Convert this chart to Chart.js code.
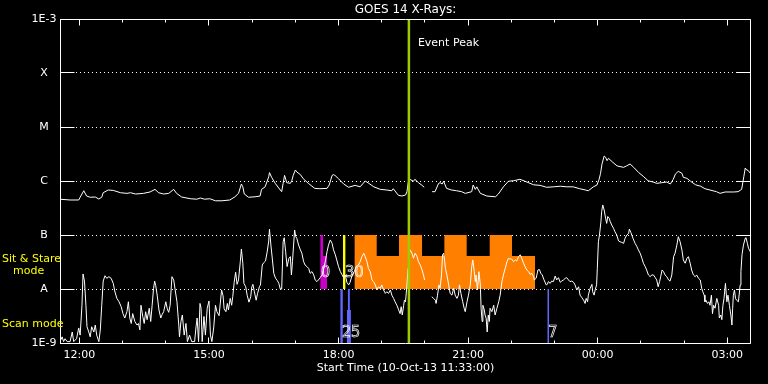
<!DOCTYPE html>
<html>
<head>
<meta charset="utf-8">
<style>
html,body{margin:0;padding:0;background:#000;}
#wrap{width:768px;height:384px;}
</style>
<script src="https://cdn.jsdelivr.net/npm/chart.js@4.4.1/dist/chart.umd.min.js"></script>
</head>
<body>
<div id="wrap"><canvas id="c" width="768" height="384"></canvas></div>
<script>
// ---------- DATA (time = minutes after start 10-Oct-13 11:33:00, flux in W/m^2) ----------
const longTimes = [
  0,14,26,28,33,37,42,49,54,58,
  60,67,74,84,93,98,105,116,125,132,
  137,144,151,158,162,169,181,190,195,201,
  208,216,225,236,243,248,252,254,256,262,
  271,278,280,285,290,291,294,299,306,308,
  310,312,315,320,322,324,327,329,334,338,
  345,354,361,371,374,378,380,382,387,394,
  401,410,417,424,429,436,445,454,461,463,
  470,475,480,482,484,486,491,493,498,503,
  506,511,
  517,521,526,528,531,533,537,544,
  551,558,563,572,574,577,579,584,593,605,
  609,616,623,630,639,646,658,667,676,686,
  695,704,713,722,730,734,741,746,749,751,
  753,756,758,760,762,767,774,783,787,792,
  797,804,811,817,824,829,836,843,848,852,
  855,859,864,866,871,876,883,890,896,903,
  912,917,924,936,942,947,950,952,954,956,
  959
];
const longFlux = [
  4.6e-7,4.45e-7,4.45e-7,5.0e-7,6.6e-7,5.27e-7,5.0e-7,5.05e-7,4.64e-7,5.0e-7,
  6.07e-7,6.81e-7,6.7e-7,6.07e-7,5.9e-7,6.07e-7,5.74e-7,5.9e-7,6.26e-7,7.0e-7,
  6.07e-7,5.74e-7,5.9e-7,7.0e-7,5.9e-7,5.05e-7,4.7e-7,4.6e-7,4.84e-7,4.6e-7,
  4.7e-7,4.3e-7,4.3e-7,4.45e-7,5.1e-7,5.9e-7,8.8e-7,7.8e-7,5.74e-7,5.0e-7,
  5.1e-7,5.27e-7,7.0e-7,7.8e-7,1.2e-6,1.43e-6,1.17e-6,9.05e-7,6.81e-7,6.34e-7,
  9.05e-7,1.27e-6,9.3e-7,9.05e-7,1.01e-6,1.27e-6,1.6e-6,1.47e-6,1.31e-6,1.10e-6,
  9.05e-7,7.3e-7,7.2e-7,7.3e-7,8.43e-7,1.27e-6,1.31e-6,1.27e-6,1.10e-6,8.8e-7,
  7.65e-7,8.3e-7,7.8e-7,1.0e-6,9.05e-7,7.8e-7,7.0e-7,6.81e-7,6.6e-7,7.2e-7,
  5.45e-7,5.27e-7,5.5e-7,6.34e-7,9.7e-7,1.075e-6,9.9e-7,1.075e-6,9.3e-7,8.3e-7,
  7.65e-7,null,
  6.34e-7,6.34e-7,9.05e-7,9.3e-7,8.8e-7,9.9e-7,7.3e-7,6.81e-7,
  6.6e-7,6.34e-7,5.9e-7,6.34e-7,8.43e-7,7.0e-7,7.8e-7,5.9e-7,5.27e-7,5.1e-7,
  5.74e-7,7.8e-7,9.9e-7,1.01e-6,1.075e-6,9.9e-7,8.5e-7,8.3e-7,7.65e-7,7.8e-7,
  8.0e-7,7.8e-7,7.8e-7,7.2e-7,6.81e-7,6.6e-7,7.8e-7,8.43e-7,1.075e-6,1.39e-6,
  2.065e-6,2.9e-6,2.75e-6,2.38e-6,2.63e-6,2.28e-6,1.9e-6,1.79e-6,1.9e-6,2.065e-6,
  1.79e-6,1.43e-6,1.2e-6,1.01e-6,9.58e-7,9.05e-7,9.3e-7,9.58e-7,8.8e-7,1.075e-6,
  1.348e-6,1.51e-6,1.39e-6,1.17e-6,1.12e-6,9.9e-7,8.5e-7,8.0e-7,7.2e-7,6.81e-7,
  6.34e-7,5.9e-7,6.26e-7,6.26e-7,6.34e-7,7.0e-7,1.2e-6,1.74e-6,1.6e-6,1.57e-6,
  1.39e-6
];
const shortTimes = [
  0,3,5,7,10,14,17,19,23,26,
  28,30.5,32,34,36,37.5,40,42,44,47,
  49,51,54,56,58,60,62.5,65,68,71,
  74,76,79,82,85,87.5,90,93,95,97,
  99,101,104,107,109,111,112.5,115,117,119,
  121,124,126,128,130,131.5,133,135,137.5,140,
  142,144,147,149,151,153,155.5,158,160,162.5,
  165,166,168,170,172.5,175,177,180,183,187,
  189,190.5,192.5,194.5,196,197.5,200,202,204.5,207,
  209,211,213.5,216,218,221,223,224.5,226.5,228,
  230.5,232.5,234,236.5,238.5,240,242,244,246,248,
  250.5,252,254,255.5,258,260,262.5,265,266.5,268,
  270,272.5,274.5,277,278.5,281,283,285.5,288,290,
  291,293,295,297,299.5,302,304,306,308,310,
  311.5,313.5,315.5,318,320,321.5,323,324.5,326,327.5,
  329,331.5,334,336,338.5,340.5,343,345.5,347.5,350,
  352.5,354.5,357,359,361.5,364,366,368.5,371,373,
  375.5,378,380,382.5,384.5,387,389.5,391.5,394,396.5,
  398.5,401,403,406,409,411.5,414.5,417,419.5,422,
  424,426.5,428.5,431,433.5,435.5,438,440.5,442.5,445,
  447,449.5,452,454,456.5,459,461,463.5,465.5,468,
  470.5,472.5,474,475.5,477.5,478.5,480,482,483.5,484.5,
  486.5,489,491,493.5,496,498,500.5,503,505,506.5,
  511,516.5,519,521.5,522.5,524.5,526.5,528,530,531.5,
  533,534.5,535.5,537.5,540,542,544.5,547,549,551.5,
  553.5,555,557,559.5,561.5,563,565.5,567.5,570,572,
  573.5,575.5,577,578,580,582,584,585,586.5,587.5,
  589.5,590.5,592,593.5,595,596.5,597.5,600,602.5,604.5,
  607,609.5,611.5,614,616,618.5,621,623,625,627.5,
  630,632.5,634.5,637,639.5,641.5,644,646,648.5,651,
  653,655.5,658,659,661.5,664,666,668,670,672.5,
  675.5,677,678.5,681,683,685.5,688,690,692.5,695,
  697,699.5,702,704,706.5,708.5,711,713.5,715.5,718,
  720.5,722.5,725,727.5,729.5,731,733,734,736.5,739,
  740,742,743.5,745.5,746.5,748,749.5,751.5,752.5,754,
  756,758,759.5,761,763,764.5,766.5,769,771,773.5,
  776,778,780.5,783,785,787.5,790,791,793,796,
  799,801.5,803.5,806,808.5,810.5,813,815,817.5,820,
  822,824.5,827,829,831,833,834.5,836.5,838.5,840.5,
  843,845.5,847.5,850,852.5,854.5,857,859,861.5,864,
  866,868.5,871,873,875.5,877.5,880,882.5,884.5,887,
  889.5,891.5,893,895,896,897.5,899.5,901.5,903,905,
  906.5,908,910,912.5,915,916,918,919.5,921,922.5,
  924.5,926.5,928,930,932,933.5,934.5,935.5,937,938.5,
  940,942.5,945,946,947.5,949.5,952,953,955,956.5,
  959
];
const shortFlux = [
  1.06e-9,1.3e-9,1.06e-9,1.2e-9,1.06e-9,1.06e-9,1.6e-9,1.06e-9,1.2e-9,1.9e-9,
  1.4e-9,5.0e-9,1.9e-8,1.4e-8,5.0e-9,2.0e-9,1.6e-9,1.3e-9,2.0e-9,1.6e-9,
  2.15e-9,1.4e-9,1.06e-9,1.75e-9,5.0e-9,1.4e-8,1.76e-8,1.58e-8,1.69e-8,1.58e-8,
  1.27e-8,9.2e-9,6.7e-9,5.8e-9,4.7e-9,3.5e-9,2.9e-9,3.8e-9,5.8e-9,2.9e-9,
  2.3e-9,3.5e-9,2.5e-9,2.15e-9,2.3e-9,1.75e-9,5.0e-9,3.1e-9,2.3e-9,3.8e-9,
  2.7e-9,4.4e-9,2.5e-9,5.0e-9,1.03e-8,1.4e-8,1.15e-8,7.7e-9,4.1e-9,2.9e-9,
  3.4e-9,3.8e-9,5.8e-9,4.3e-9,3.7e-9,5.0e-9,1.69e-8,1.47e-8,9.6e-9,5.8e-9,
  2.15e-9,1.3e-9,2.5e-9,3.3e-9,1.4e-9,2.3e-9,1.06e-9,1.4e-9,1.06e-9,1.06e-9,
  2.0e-9,2.9e-9,1.06e-9,5.4e-9,4.4e-9,1.06e-9,3.1e-9,1.4e-9,4.4e-9,6.0e-9,
  1.4e-9,1.06e-9,1.9e-9,5.0e-9,3.8e-9,3.2e-9,6.0e-9,9.6e-9,7.5e-9,4.3e-9,
  3.8e-9,5.4e-9,4.1e-9,6.7e-9,5.0e-9,7.2e-9,1.33e-8,2.04e-8,1.22e-8,1.47e-8,
  3.2e-8,5.5e-8,3.0e-8,1.27e-8,1.1e-8,7.7e-9,5.7e-9,7.2e-9,1.1e-8,1.22e-8,
  8.9e-9,6.2e-9,8.3e-9,1.1e-8,1.19e-8,2.78e-8,3.07e-8,3.3e-8,5.05e-8,7.75e-8,
  1.28e-7,6.5e-8,3.6e-8,1.95e-8,1.58e-8,1.43e-8,1.27e-8,1.0e-8,1.0e-8,7.5e-8,
  8.9e-8,4.9e-8,2.6e-8,3.7e-8,3.97e-8,1.82e-8,3.2e-8,6.5e-8,1.24e-7,9.3e-8,
  8.7e-8,6.5e-8,5.3e-8,4.6e-8,3.2e-8,2.78e-8,2.6e-8,2.4e-8,1.95e-8,2.1e-8,
  1.82e-8,1.47e-8,1.37e-8,1.47e-8,1.62e-8,1.82e-8,2.25e-8,3.2e-8,4.9e-8,6.5e-8,
  8.1e-8,7.0e-8,5.3e-8,4.3e-8,3.45e-8,2.6e-8,2.1e-8,1.87e-8,1.62e-8,1.82e-8,
  1.33e-8,1.19e-8,1.33e-8,1.82e-8,2.1e-8,2.6e-8,2.78e-8,3.2e-8,3.97e-8,4.6e-8,
  3.97e-8,3.2e-8,2.4e-8,2.1e-8,1.47e-8,1.37e-8,1.19e-8,9.6e-9,1.1e-8,1.03e-8,
  1.19e-8,9.6e-9,8.3e-9,8.9e-9,8.3e-9,9.6e-9,7.7e-9,6.7e-9,5.8e-9,5.0e-9,
  4.1e-9,3.5e-9,4.7e-9,3.3e-9,5.0e-9,6.2e-9,5.8e-9,1.19e-8,2.4e-8,3.7e-8,
  5.3e-8,4.6e-8,3.7e-8,4.6e-8,3.97e-8,3.2e-8,2.78e-8,2.25e-8,1.82e-8,1.47e-8,
  null,7.2e-9,6.7e-9,6.2e-9,5.4e-9,7.7e-9,1.19e-8,1.03e-8,1.82e-8,4.3e-8,
  4.6e-8,3.2e-8,2.4e-8,1.82e-8,1.19e-8,8.3e-9,7.7e-9,1.03e-8,7.7e-9,6.7e-9,
  7.7e-9,1.19e-8,8.3e-9,5.8e-9,4.4e-9,3.8e-9,5.8e-9,7.7e-9,1.19e-8,2.6e-8,
  3.45e-8,2.1e-8,1.37e-8,1.82e-8,9.6e-9,2.1e-8,1.19e-8,4.4e-9,2.5e-9,5.0e-9,
  4.1e-9,3.3e-9,2.9e-9,1.6e-9,3.3e-9,2.5e-9,4.4e-9,3.8e-9,5.0e-9,3.3e-9,
  4.4e-9,5.8e-9,7.7e-9,1.37e-8,1.82e-8,2.4e-8,3.2e-8,3.7e-8,3.6e-8,3.6e-8,
  3.2e-8,3.45e-8,3.3e-8,3.97e-8,4.3e-8,3.7e-8,3.0e-8,2.6e-8,2.25e-8,2.1e-8,
  1.87e-8,1.95e-8,1.69e-8,1.47e-8,1.58e-8,2.25e-8,2.3e-8,1.95e-8,1.82e-8,1.47e-8,
  1.19e-8,1.22e-8,1.37e-8,1.27e-8,1.4e-8,1.37e-8,1.74e-8,1.47e-8,1.62e-8,1.33e-8,
  1.4e-8,1.47e-8,1.58e-8,1.62e-8,1.47e-8,1.37e-8,1.4e-8,1.33e-8,1.19e-8,9.6e-9,
  1.1e-8,7.7e-9,6.9e-9,6.2e-9,5.4e-9,6.7e-9,5.8e-9,7.7e-9,1.03e-8,1.22e-8,
  8.9e-9,7.7e-9,9.6e-9,1.19e-8,2.4e-8,7.5e-8,1.0e-7,1.76e-7,2.7e-7,3.6e-7,
  2.9e-7,2.04e-7,1.64e-7,2.2e-7,2.04e-7,1.76e-7,1.53e-7,1.33e-7,1.15e-7,1.0e-7,
  7.75e-8,7.5e-8,7.3e-8,7.0e-8,8.7e-8,1.0e-7,1.07e-7,1.29e-7,1.12e-7,8.7e-8,
  7.0e-8,6.1e-8,5.3e-8,4.6e-8,3.7e-8,3.0e-8,2.6e-8,2.25e-8,1.82e-8,1.69e-8,
  1.82e-8,1.82e-8,1.62e-8,1.47e-8,1.1e-8,1.37e-8,1.69e-8,2.25e-8,2.1e-8,1.82e-8,
  1.69e-8,1.47e-8,1.4e-8,1.82e-8,3.97e-8,4.6e-8,6.5e-8,9.3e-8,7.5e-8,5.3e-8,
  3.45e-8,3.0e-8,3.7e-8,3.97e-8,3.0e-8,2.25e-8,1.82e-8,1.69e-8,1.82e-8,1.58e-8,
  1.47e-8,1.03e-8,8.9e-9,7.7e-9,5.8e-9,6.2e-9,5.4e-9,5.8e-9,5.0e-9,7.7e-9,
  3.5e-9,5.0e-9,4.4e-9,6.7e-9,5.0e-9,2.9e-9,3.3e-9,2.7e-9,5.0e-9,6.7e-9,
  1.27e-8,5.8e-9,7.7e-9,5.0e-9,3.3e-9,2.15e-9,4.4e-9,7.7e-9,9.6e-9,6.7e-9,
  6.2e-9,5.8e-9,1.19e-8,2.1e-8,4.3e-8,6.5e-8,8.7e-8,8.9e-8,7.0e-8,5.7e-8,
  4.9e-8
];

// Instrument mode blocks (start times of each step, level held until next time)
const sitStareTimes  = [409, 440, 471, 503, 534, 565, 597, 628, 660];
const sitStareLevels = [1e-7, 4.1e-8, 1e-7, 4.1e-8, 1e-7, 4.1e-8, 1e-7, 4.1e-8, 4.1e-8];
const magentaTimes   = [361.5, 365.5, 371];
const magentaLevels  = [1e-7, 4.1e-8, 4.1e-8];
const yellowTimes    = [393, 396.8];
const yellowLevels   = [1e-7, 1e-7];
const scan1Times     = [389.3, 393];
const scan1Levels    = [1e-8, 1e-8];
const scan2Times     = [398.5, 400, 402.7, 404.2];
const scan2Levels    = [4.1e-9, 1e-8, 4.1e-9, 4.1e-9];
const scan3Times     = [677, 679.5];
const scan3Levels    = [1e-8, 1e-8];

const modeLabelTexts  = ['0', '30', '25', '7'];
const modeLabelTimes  = [362.5, 396.3, 391.7, 678.2];
const modeLabelLevels = [2e-8, 2e-8, 1.53e-9, 1.53e-9];

const eventPeakTime = 484.7;

// Axes
const decadeValues = [1e-9, 1e-8, 1e-7, 1e-6, 1e-5, 1e-4, 1e-3];
const decadeLabels = ['1E-9', 'A', 'B', 'C', 'M', 'X', '1E-3'];
const hourTickTimes = [27,87,147,207,267,327,387,447,507,567,627,687,747,807,867,927];
const labelTickTimes = [27, 207, 387, 567, 747, 927];
const labelTickTexts = ['12:00', '15:00', '18:00', '21:00', '00:00', '03:00'];

// ---------- CHART ----------
const toPoints = (ts, vs) => ts.map((t, i) => ({x: t, y: vs[i]}));
const FONT = 'DejaVu Sans';
Chart.defaults.font.family = FONT;
Chart.defaults.color = '#ffffff';

const framePlugin = {
  id: 'frame',
  beforeDraw(chart) {
    const ctx = chart.ctx;
    ctx.save();
    ctx.fillStyle = '#000';
    ctx.fillRect(0, 0, chart.width, chart.height);
    ctx.restore();
  },
  afterDraw(chart) {
    const ctx = chart.ctx;
    const xs = chart.scales.x, ys = chart.scales.y;
    const L = Math.floor(xs.getPixelForValue(xs.min)) + 0.5;
    const R = Math.floor(xs.getPixelForValue(xs.max)) - 0.5;
    const T = Math.floor(ys.getPixelForValue(ys.max)) + 0.5;
    const B = Math.floor(ys.getPixelForValue(ys.min)) + 0.5;
    ctx.save();
    ctx.strokeStyle = '#fff';
    ctx.lineWidth = 1;
    ctx.beginPath();
    ctx.rect(L, T, R - L, B - T);
    decadeValues.forEach(v => {
      const py = Math.floor(ys.getPixelForValue(v)) + 0.5;
      ctx.moveTo(L, py); ctx.lineTo(L + 14, py);
      ctx.moveTo(R - 14, py); ctx.lineTo(R, py);
    });
    hourTickTimes.forEach(t => {
      const px = Math.floor(xs.getPixelForValue(t)) + 0.5;
      const len = labelTickTimes.includes(t) ? 6 : 3;
      ctx.moveTo(px, B); ctx.lineTo(px, B - len);
      ctx.moveTo(px, T); ctx.lineTo(px, T + len);
    });
    ctx.stroke();

    ctx.textBaseline = 'middle';
    ctx.textAlign = 'left';
    ctx.font = '11px ' + FONT;
    ctx.fillStyle = '#fff';
    ctx.fillText('Event Peak', xs.getPixelForValue(eventPeakTime) + 9, T + 24);

    ctx.fillStyle = '#ffff00';
    const yB = ys.getPixelForValue(1e-7), yA = ys.getPixelForValue(1e-8);
    ctx.fillText('Sit & Stare', 2, yB + 24);
    ctx.fillText('mode', 13, yB + 36);
    ctx.fillText('Scan mode', 2, yA + 35);

    ctx.strokeStyle = '#fff';
    ctx.lineWidth = 0.7;
    ctx.font = '16px "DejaVu Sans Condensed", "DejaVu Sans"';
    modeLabelTexts.forEach((s, i) => {
      ctx.strokeText(s, xs.getPixelForValue(modeLabelTimes[i]), ys.getPixelForValue(modeLabelLevels[i]));
    });
    ctx.restore();
  }
};

const stepDs = (ts, vs, color, fill) => ({
  data: toPoints(ts, vs),
  stepped: 'before',
  borderColor: 'rgba(0,0,0,0)',
  borderWidth: 0,
  backgroundColor: color,
  fill: fill,
  pointRadius: 0
});

new Chart(document.getElementById('c'), {
  type: 'line',
  data: {
    datasets: [
      { data: toPoints([eventPeakTime, eventPeakTime], [1e-9, 1e-3]), borderColor: '#9ccc00', borderWidth: 2.5, pointRadius: 0, fill: false },
      { data: toPoints(shortTimes, shortFlux), borderColor: '#ffffff', borderWidth: 1, pointRadius: 0, fill: false, tension: 0, spanGaps: false },
      { data: toPoints(longTimes, longFlux), borderColor: '#ffffff', borderWidth: 1, pointRadius: 0, fill: false, tension: 0, spanGaps: false },
      stepDs(sitStareTimes, sitStareLevels, '#ff8000', {value: 1e-8}),
      stepDs(magentaTimes, magentaLevels, '#c800c8', {value: 1e-8}),
      stepDs(yellowTimes, yellowLevels, '#ffff00', {value: 1e-8}),
      stepDs(scan1Times, scan1Levels, '#6464ff', 'start'),
      stepDs(scan2Times, scan2Levels, '#6464ff', 'start'),
      stepDs(scan3Times, scan3Levels, '#6464ff', 'start')
    ]
  },
  options: {
    responsive: false,
    maintainAspectRatio: false,
    devicePixelRatio: 1,
    animation: false,
    events: [],
    layout: { padding: { left: 0, right: 17, top: 0, bottom: 0 } },
    plugins: {
      legend: { display: false },
      tooltip: { enabled: false },
      title: {
        display: true,
        text: 'GOES 14 X-Rays:',
        color: '#ffffff',
        fullSize: false,
        font: { size: 12, weight: 'normal', lineHeight: 1 },
        padding: { top: 4, bottom: 3 }
      }
    },
    scales: {
      x: {
        type: 'linear',
        min: 0,
        max: 960,
        afterBuildTicks: s => { s.ticks = labelTickTimes.map(v => ({value: v})); },
        afterFit: s => { s.height = 41; },
        grid: { display: false, drawTicks: false },
        border: { display: false },
        ticks: {
          color: '#ffffff',
          font: { size: 11 },
          padding: 6,
          maxRotation: 0,
          autoSkip: false,
          callback: (v, i) => labelTickTexts[i]
        },
        title: {
          display: true,
          text: 'Start Time (10-Oct-13 11:33:00)',
          color: '#ffffff',
          font: { size: 11 },
          padding: { top: 0, bottom: 9 }
        }
      },
      y: {
        type: 'logarithmic',
        min: 1e-9,
        max: 1e-3,
        afterBuildTicks: s => { s.ticks = decadeValues.map(v => ({value: v})); },
        afterFit: s => { s.width = 60; },
        grid: { color: '#ffffff', lineWidth: 1, drawTicks: false },
        border: { display: false, dash: [1, 3] },
        ticks: {
          color: '#ffffff',
          font: { size: 11 },
          padding: 3.5,
          crossAlign: 'center',
          autoSkip: false,
          callback: (v, i) => decadeLabels[i]
        }
      }
    }
  },
  plugins: [framePlugin]
});
</script>
</body>
</html>
